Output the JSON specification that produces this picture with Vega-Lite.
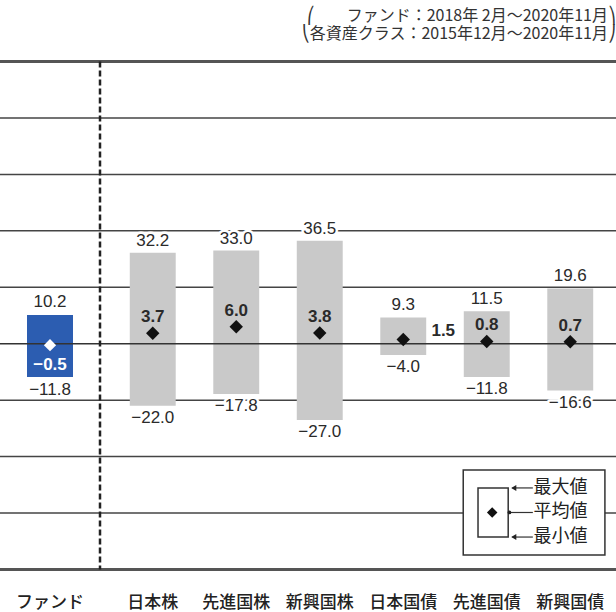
{
  "$schema": "https://vega.github.io/schema/vega-lite/v6.json",
  "width": 616,
  "height": 508,
  "autosize": {"type": "none"},
  "padding": {"left": 0, "top": 61.5, "right": 0, "bottom": 42.5},
  "background": "white",
  "title": {
    "text": ["⎛　　ファンド：2018年 2月～2020年11月⎞", "⎝各資産クラス：2015年12月～2020年11月⎠"],
    "anchor": "end", "align": "right", "baseline": "bottom", "offset": 2, "frame": "group",
    "font": "Noto Sans CJK JP", "fontSize": 16, "fontWeight": "normal", "color": "#333", "lineHeight": 18
  },
  "datasets": {
    "assets": [
      {"category": "日本株", "max": 32.2, "mean": 3.7, "min": -22.0},
      {"category": "先進国株", "max": 33.0, "mean": 6.0, "min": -17.8},
      {"category": "新興国株", "max": 36.5, "mean": 3.8, "min": -27.0},
      {"category": "日本国債", "max": 9.3, "mean": 1.5, "min": -4.0},
      {"category": "先進国債", "max": 11.5, "mean": 0.8, "min": -11.8},
      {"category": "新興国債", "max": 19.6, "mean": 0.7, "min": -16.6}
    ],
    "fund": [
      {"category": "ファンド", "max": 10.2, "mean": -0.5, "min": -11.8}
    ],
    "levels": [
      {"level": -60}, {"level": -40}, {"level": -20}, {"level": 20}, {"level": 40}, {"level": 60}, {"level": 80}
    ],
    "one": [{}]
  },
  "config": {
    "view": {"stroke": null},
    "text": {"font": "Liberation Sans", "fontSize": 17, "color": "#2a2a2a", "baseline": "middle"},
    "axisY": {"labels": false, "ticks": false, "domain": false, "grid": false},
    "axisX": {"labelFont": "Noto Sans CJK JP", "labelFontSize": 17, "labelFontWeight": 500, "labelColor": "#222", "labelPadding": 25, "ticks": false, "domain": false, "grid": false, "labelAngle": 0}
  },
  "layer": [
    {
      "data": {"name": "levels"},
      "mark": {"type": "rule", "color": "#444", "strokeWidth": 1.5},
      "encoding": {
        "x": {"datum": 0, "type": "quantitative", "axis": null, "scale": {"domain": [0, 100], "nice": false, "zero": false}},
        "x2": {"datum": 100},
        "y": {"field": "level", "type": "quantitative", "title": null, "axis": null, "scale": {"domain": [-80, 100], "nice": false, "zero": false}}
      }
    },
    {
      "data": {"name": "assets"},
      "mark": {"type": "bar", "color": "#c9c9c9", "width": {"band": 0.55}},
      "encoding": {
        "x": {"field": "category", "type": "nominal", "sort": null, "title": null, "axis": {"orient": "bottom"},
              "scale": {"type": "band", "domain": ["日本株", "先進国株", "新興国株", "日本国債", "先進国債", "新興国債"], "range": [111, 612], "paddingInner": 0, "paddingOuter": 0}},
        "y": {"field": "max", "type": "quantitative", "title": null,
              "scale": {"domain": [-80, 100], "nice": false, "zero": false}},
        "y2": {"field": "min"}
      }
    },
    {
      "data": {"name": "fund"},
      "mark": {"type": "bar", "color": "#2c5db1", "width": {"band": 0.46}},
      "encoding": {
        "x": {"field": "category", "type": "nominal", "title": null, "axis": {"orient": "bottom"},
              "scale": {"type": "band", "domain": ["ファンド"], "range": [0, 100], "paddingInner": 0, "paddingOuter": 0}},
        "y": {"field": "max", "type": "quantitative", "title": null, "scale": {"domain": [-80, 100], "nice": false, "zero": false}},
        "y2": {"field": "min"}
      }
    },
    {
      "data": {"name": "one"},
      "encoding": {
        "x": {"datum": 0, "type": "quantitative", "axis": null, "scale": {"domain": [0, 100], "nice": false, "zero": false}},
        "x2": {"datum": 100}
      },
      "layer": [
        {"mark": {"type": "rule", "color": "#333", "strokeWidth": 1.5},
         "encoding": {"y": {"datum": 0, "type": "quantitative", "title": null, "scale": {"domain": [-80, 100], "nice": false, "zero": false}}}},
        {"mark": {"type": "rule", "color": "#555", "strokeWidth": 3},
         "encoding": {"y": {"datum": 100, "type": "quantitative", "title": null, "scale": {"domain": [-80, 100], "nice": false, "zero": false}}}},
        {"mark": {"type": "rule", "color": "#555", "strokeWidth": 3},
         "encoding": {"y": {"datum": -80, "type": "quantitative", "title": null, "scale": {"domain": [-80, 100], "nice": false, "zero": false}}}}
      ]
    },
    {
      "data": {"name": "fund"},
      "encoding": {
        "x": {"field": "category", "type": "nominal", "title": null, "axis": null,
              "scale": {"type": "band", "domain": ["ファンド"], "range": [0, 100], "paddingInner": 0, "paddingOuter": 0}}
      },
      "layer": [
        {"mark": {"type": "point", "shape": "diamond", "filled": true, "color": "white", "size": 150, "opacity": 1},
         "encoding": {"y": {"field": "mean", "type": "quantitative", "title": null, "scale": {"domain": [-80, 100], "nice": false, "zero": false}}}},
        {"mark": {"type": "text", "dy": -13, "color": "white", "stroke": "white", "strokeWidth": 5, "strokeJoin": "round"},
         "encoding": {"y": {"field": "max", "type": "quantitative", "title": null, "scale": {"domain": [-80, 100], "nice": false, "zero": false}},
                      "text": {"field": "max", "type": "quantitative", "format": ".1f"}}},
        {"mark": {"type": "text", "dy": -13},
         "encoding": {"y": {"field": "max", "type": "quantitative", "title": null, "scale": {"domain": [-80, 100], "nice": false, "zero": false}},
                      "text": {"field": "max", "type": "quantitative", "format": ".1f"}}},
        {"mark": {"type": "text", "dy": 13, "color": "white", "stroke": "white", "strokeWidth": 5, "strokeJoin": "round"},
         "encoding": {"y": {"field": "min", "type": "quantitative", "title": null, "scale": {"domain": [-80, 100], "nice": false, "zero": false}},
                      "text": {"field": "min", "type": "quantitative", "format": ".1f"}}},
        {"mark": {"type": "text", "dy": 13},
         "encoding": {"y": {"field": "min", "type": "quantitative", "title": null, "scale": {"domain": [-80, 100], "nice": false, "zero": false}},
                      "text": {"field": "min", "type": "quantitative", "format": ".1f"}}},
        {"mark": {"type": "text", "dy": 20, "color": "white", "fontWeight": "bold"},
         "encoding": {"y": {"field": "mean", "type": "quantitative", "title": null, "scale": {"domain": [-80, 100], "nice": false, "zero": false}},
                      "text": {"field": "mean", "type": "quantitative", "format": ".1f"}}},
        {"mark": {"type": "rule", "color": "#222", "strokeWidth": 2.5, "strokeDash": [6, 3]},
         "encoding": {"x": {"datum": "ファンド", "type": "nominal", "bandPosition": 1, "axis": null,
                            "scale": {"type": "band", "domain": ["ファンド"], "range": [0, 100], "paddingInner": 0, "paddingOuter": 0}},
                      "y": {"datum": 100, "type": "quantitative", "title": null, "scale": {"domain": [-80, 100], "nice": false, "zero": false}},
                      "y2": {"datum": -80}}}
      ]
    },
    {
      "data": {"name": "assets"},
      "encoding": {
        "x": {"field": "category", "type": "nominal", "sort": null, "title": null, "axis": null,
              "scale": {"type": "band", "domain": ["日本株", "先進国株", "新興国株", "日本国債", "先進国債", "新興国債"], "range": [111, 612], "paddingInner": 0, "paddingOuter": 0}}
      },
      "layer": [
        {"mark": {"type": "point", "shape": "diamond", "filled": true, "color": "#111", "size": 180, "opacity": 1},
         "encoding": {"y": {"field": "mean", "type": "quantitative", "title": null, "scale": {"domain": [-80, 100], "nice": false, "zero": false}}}},
        {"mark": {"type": "text", "dy": -12, "color": "white", "stroke": "white", "strokeWidth": 5, "strokeJoin": "round"},
         "encoding": {"y": {"field": "max", "type": "quantitative", "title": null, "scale": {"domain": [-80, 100], "nice": false, "zero": false}},
                      "text": {"field": "max", "type": "quantitative", "format": ".1f"}}},
        {"mark": {"type": "text", "dy": -12},
         "encoding": {"y": {"field": "max", "type": "quantitative", "title": null, "scale": {"domain": [-80, 100], "nice": false, "zero": false}},
                      "text": {"field": "max", "type": "quantitative", "format": ".1f"}}},
        {"mark": {"type": "text", "dy": 12, "color": "white", "stroke": "white", "strokeWidth": 5, "strokeJoin": "round"},
         "encoding": {"y": {"field": "min", "type": "quantitative", "title": null, "scale": {"domain": [-80, 100], "nice": false, "zero": false}},
                      "text": {"field": "min", "type": "quantitative", "format": ".1f"}}},
        {"mark": {"type": "text", "dy": 12},
         "encoding": {"y": {"field": "min", "type": "quantitative", "title": null, "scale": {"domain": [-80, 100], "nice": false, "zero": false}},
                      "text": {"field": "min", "type": "quantitative", "format": ".1f"}}},
        {"transform": [{"filter": "datum.category !== '日本国債'"}],
         "mark": {"type": "text", "dy": -16, "fontWeight": "bold"},
         "encoding": {"y": {"field": "mean", "type": "quantitative", "title": null, "scale": {"domain": [-80, 100], "nice": false, "zero": false}},
                      "text": {"field": "mean", "type": "quantitative", "format": ".1f"}}},
        {"transform": [{"filter": "datum.category === '日本国債'"}],
         "mark": {"type": "text", "dx": 40, "dy": -8, "fontWeight": "bold"},
         "encoding": {"y": {"field": "mean", "type": "quantitative", "title": null, "scale": {"domain": [-80, 100], "nice": false, "zero": false}},
                      "text": {"field": "mean", "type": "quantitative", "format": ".1f"}}}
      ]
    },
    {
      "data": {"name": "one"},
      "layer": [
        {"mark": {"type": "rect", "fill": "white", "stroke": "#333", "strokeWidth": 1.5},
         "encoding": {"x": {"datum": 75.2, "type": "quantitative", "axis": null, "scale": {"domain": [0, 100], "nice": false, "zero": false}}, "x2": {"datum": 98.2},
                      "y": {"datum": -44.7, "type": "quantitative", "title": null, "scale": {"domain": [-80, 100], "nice": false, "zero": false}}, "y2": {"datum": -74.9}}},
        {"mark": {"type": "rect", "fill": "white", "fillOpacity": 0, "stroke": "#333", "strokeWidth": 1.5},
         "encoding": {"x": {"datum": 77.6, "type": "quantitative", "axis": null, "scale": {"domain": [0, 100], "nice": false, "zero": false}}, "x2": {"datum": 82.5},
                      "y": {"datum": -51.1, "type": "quantitative", "title": null, "scale": {"domain": [-80, 100], "nice": false, "zero": false}}, "y2": {"datum": -68.5}}},
        {"mark": {"type": "point", "shape": "diamond", "filled": true, "color": "#111", "size": 110, "opacity": 1},
         "encoding": {"x": {"datum": 79.9, "type": "quantitative", "axis": null, "scale": {"domain": [0, 100], "nice": false, "zero": false}},
                      "y": {"datum": -59.8, "type": "quantitative", "title": null, "scale": {"domain": [-80, 100], "nice": false, "zero": false}}}},
        {"mark": {"type": "rule", "color": "#333", "strokeWidth": 1.2},
         "encoding": {"x": {"datum": 83.2, "type": "quantitative", "axis": null, "scale": {"domain": [0, 100], "nice": false, "zero": false}}, "x2": {"datum": 86.5},
                      "y": {"datum": -51.1, "type": "quantitative", "title": null, "scale": {"domain": [-80, 100], "nice": false, "zero": false}}}},
        {"mark": {"type": "rule", "color": "#333", "strokeWidth": 1.2},
         "encoding": {"x": {"datum": 82.5, "type": "quantitative", "axis": null, "scale": {"domain": [0, 100], "nice": false, "zero": false}}, "x2": {"datum": 86.5},
                      "y": {"datum": -59.8, "type": "quantitative", "title": null, "scale": {"domain": [-80, 100], "nice": false, "zero": false}}}},
        {"mark": {"type": "rule", "color": "#333", "strokeWidth": 1.2},
         "encoding": {"x": {"datum": 83.2, "type": "quantitative", "axis": null, "scale": {"domain": [0, 100], "nice": false, "zero": false}}, "x2": {"datum": 86.5},
                      "y": {"datum": -68.5, "type": "quantitative", "title": null, "scale": {"domain": [-80, 100], "nice": false, "zero": false}}}},
        {"mark": {"type": "point", "shape": "triangle-left", "filled": true, "color": "#222", "size": 35, "opacity": 1},
         "encoding": {"x": {"datum": 83.4, "type": "quantitative", "axis": null, "scale": {"domain": [0, 100], "nice": false, "zero": false}},
                      "y": {"datum": -51.1, "type": "quantitative", "title": null, "scale": {"domain": [-80, 100], "nice": false, "zero": false}}}},
        {"mark": {"type": "point", "shape": "triangle-left", "filled": true, "color": "#222", "size": 35, "opacity": 1},
         "encoding": {"x": {"datum": 83.4, "type": "quantitative", "axis": null, "scale": {"domain": [0, 100], "nice": false, "zero": false}},
                      "y": {"datum": -68.5, "type": "quantitative", "title": null, "scale": {"domain": [-80, 100], "nice": false, "zero": false}}}},
        {"mark": {"type": "point", "shape": "circle", "filled": true, "color": "#222", "size": 14, "opacity": 1},
         "encoding": {"x": {"datum": 82.7, "type": "quantitative", "axis": null, "scale": {"domain": [0, 100], "nice": false, "zero": false}},
                      "y": {"datum": -59.8, "type": "quantitative", "title": null, "scale": {"domain": [-80, 100], "nice": false, "zero": false}}}},
        {"mark": {"type": "text", "text": "最大値", "align": "left", "font": "Noto Sans CJK JP", "fontSize": 18, "color": "#222"},
         "encoding": {"x": {"datum": 86.6, "type": "quantitative", "axis": null, "scale": {"domain": [0, 100], "nice": false, "zero": false}},
                      "y": {"datum": -51.1, "type": "quantitative", "title": null, "scale": {"domain": [-80, 100], "nice": false, "zero": false}}}},
        {"mark": {"type": "text", "text": "平均値", "align": "left", "font": "Noto Sans CJK JP", "fontSize": 18, "color": "#222"},
         "encoding": {"x": {"datum": 86.6, "type": "quantitative", "axis": null, "scale": {"domain": [0, 100], "nice": false, "zero": false}},
                      "y": {"datum": -59.8, "type": "quantitative", "title": null, "scale": {"domain": [-80, 100], "nice": false, "zero": false}}}},
        {"mark": {"type": "text", "text": "最小値", "align": "left", "font": "Noto Sans CJK JP", "fontSize": 18, "color": "#222"},
         "encoding": {"x": {"datum": 86.6, "type": "quantitative", "axis": null, "scale": {"domain": [0, 100], "nice": false, "zero": false}},
                      "y": {"datum": -68.5, "type": "quantitative", "title": null, "scale": {"domain": [-80, 100], "nice": false, "zero": false}}}}
      ]
    }
  ],
  "resolve": {"scale": {"x": "independent"}, "axis": {"x": "independent"}}
}
